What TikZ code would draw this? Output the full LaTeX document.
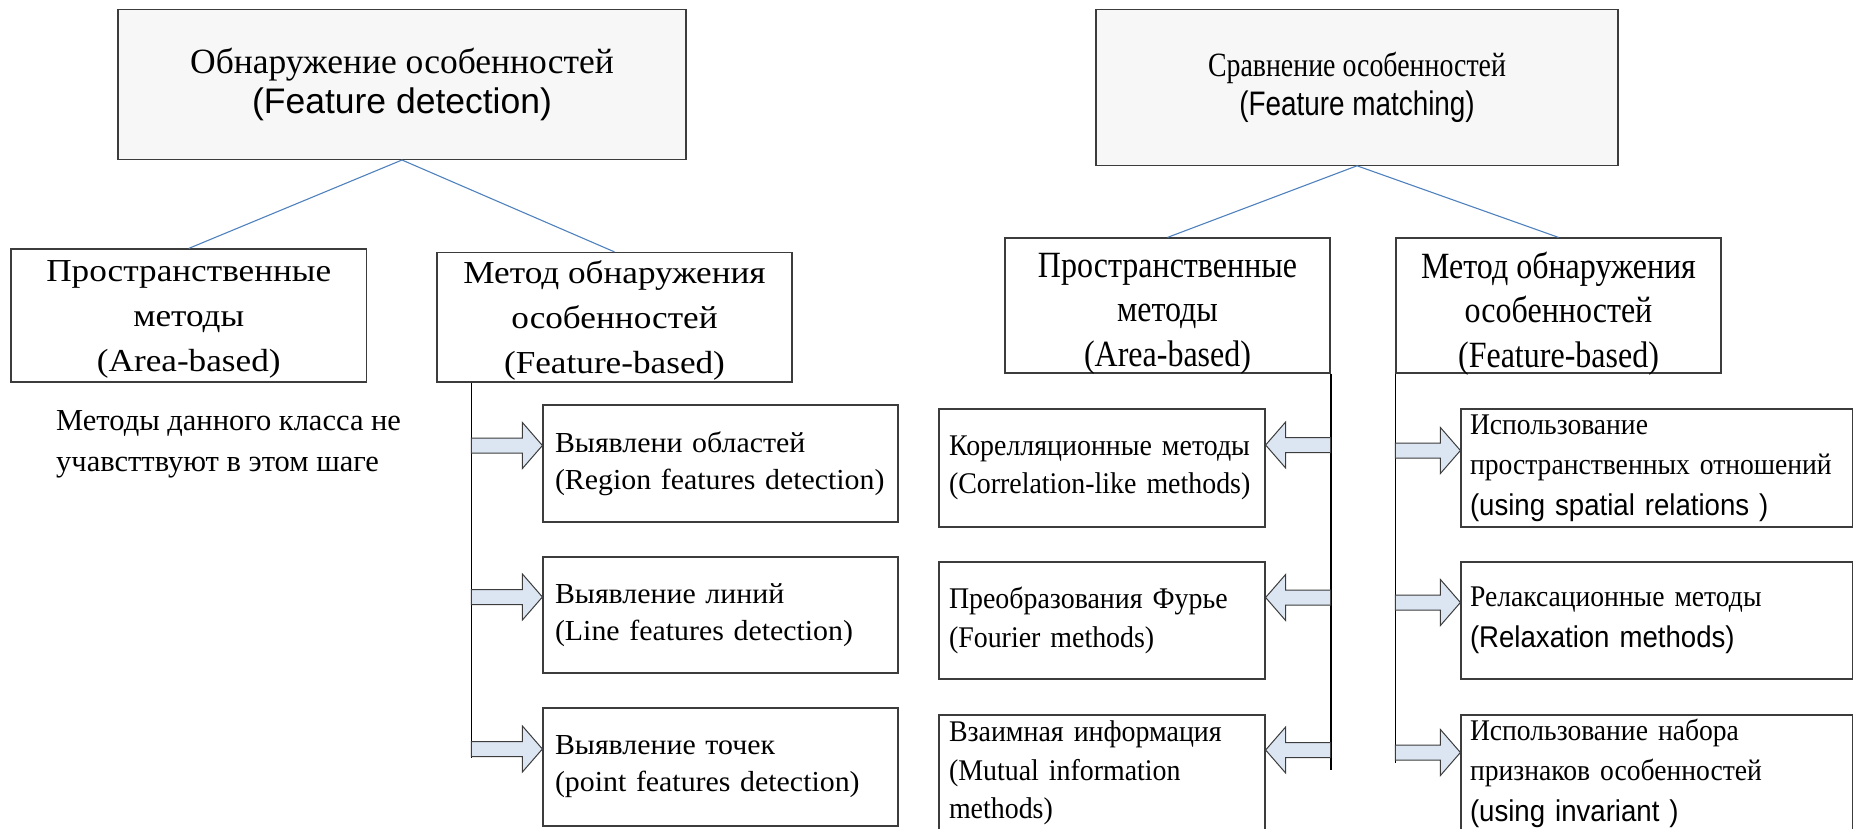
\documentclass[tikz,border=0pt]{standalone}
\usepackage{fontspec}
\setmainfont{Liberation Serif}
\setsansfont{Liberation Sans}
\usetikzlibrary{calc}

\definecolor{linkblue}{RGB}{79,129,189}
\definecolor{arrowfill}{RGB}{220,230,242}
\definecolor{edgegray}{RGB}{60,60,60}

% stretched serif / sans faces
\newcommand\serx[1]{\fontspec{Liberation Serif}[FakeStretch=#1]}
\newcommand\sanx[1]{\fontspec{Liberation Sans}[FakeStretch=#1]}

% type sizes of the text groups
\newcommand\fTitleL{\fontsize{35.5}{40}\selectfont}
\newcommand\fMidL{\serx{1.1}\fontsize{32}{45}\selectfont}
\newcommand\fNote{\fontsize{30.5}{41}\selectfont}
\newcommand\fSubL{\serx{1.03}\fontsize{29}{37}\selectfont}
\newcommand\fTitleR{\serx{0.82}\fontsize{34}{39}\selectfont}
\newcommand\fMidR{\serx{0.865}\fontsize{37}{44.5}\selectfont}
\newcommand\fSubM{\serx{0.93}\fontsize{30}{38.5}\selectfont}
\newcommand\fSubR{\serx{0.92}\fontsize{30}{40.5}\selectfont}

% block arrow from a point on a bus line (#1) to a tip point (#2)
\newcommand\blockarrow[2]{%
  \path[blockarr] let \p1=(#1), \p2=(#2), \p3=($(#2)!20pt!(#1)$) in
    (\x1,\y2+7.5pt) -- (\x3,\y2+7.5pt) -- (\x3,\y2+23pt) -- (\x2,\y2)
    -- (\x3,\y2-23pt) -- (\x3,\y2-7.5pt) -- (\x1,\y2-7.5pt) -- cycle;}

\begin{document}
\begin{tikzpicture}[x=1pt,y=-1pt,
  box/.style={draw=edgegray, line width=1.2pt, inner sep=0pt, align=center},
  topbox/.style={box, fill=black!3},
  subbox/.style={draw=edgegray, line width=1.2pt, inner ysep=0pt, align=left},
  boxtext/.style={inner sep=0pt, align=center},
  link/.style={draw=linkblue, line width=1.1pt},
  bus/.style={draw=black, line width=1.8pt},
  blockarr/.style={draw=edgegray, line width=1pt, fill=arrowfill, line join=miter}]

\useasboundingbox (0,0) rectangle (1854,828);

% ---------------- feature detection ----------------
\node[topbox, minimum width=568pt, minimum height=150pt, font=\fTitleL] (fd) at (402,84.4)
  {Обнаружение особенностей\\{\sffamily(Feature detection)}};
\node[box, minimum width=355.5pt, minimum height=133pt] (fdA) at (188.75,315.5) {};
\node[boxtext, font=\fMidL] (fdAtext) at ($(fdA.center)+(0,4)$)
  {Пространственные\\методы\\(Area-based)};
\node[box, minimum width=355pt, minimum height=129.5pt] (fdF) at (614.5,317.25) {};
\node[boxtext, font=\fMidL] (fdFtext) at ($(fdF.center)+(0,3)$)
  {Метод обнаружения\\особенностей\\(Feature-based)};
\draw[link] (fd.south) -- (fdA.north);
\draw[link] (fd.south) -- (fdF.north);

\node[anchor=west, align=left, inner sep=0pt, font=\fNote] (note) at (56,444.5)
  {Методы данного класса не\\учавсттвуют в этом шаге};

\tikzset{lsub/.style={subbox, minimum height=#1, text width=331pt, inner xsep=12pt, font=\fSubL}}
\node[lsub=117pt] (L1) at (720.5,463.5) {Выявлени областей\\(Region features detection)};
\node[lsub=116pt] (L2) at (720.5,615) {Выявление линий\\(Line features detection)};
\node[lsub=118pt] (L3) at (720.5,767) {Выявление точек\\(point features detection)};

\coordinate (busL) at ($(fdF.south west)+(35,0)$);
\coordinate (busLe) at (busL |- 0,758);
\draw[bus] (busL) -- (busLe);
\foreach \b in {L1,L2,L3}{
  \coordinate (t\b) at ($(\b.west)+(0,-18)$);
  \coordinate (s\b) at (busL |- t\b);
  \blockarrow{s\b}{t\b}
}

% ---------------- feature matching ----------------
\node[topbox, minimum width=522pt, minimum height=156pt, font=\fTitleR] (fm) at (1357,87.2)
  {Сравнение особенностей\\{\sanx{0.82}(Feature matching)}};
\node[box, minimum width=325pt, minimum height=135pt] (fmA) at (1167.5,305.5) {};
\node[boxtext, font=\fMidR] (fmAtext) at ($(fmA.center)+(0,8)$)
  {Пространственные\\методы\\(Area-based)};
\node[box, minimum width=325pt, minimum height=135pt] (fmF) at (1558.5,305.5) {};
\node[boxtext, font=\fMidR] (fmFtext) at ($(fmF.center)+(0,8)$)
  {Метод обнаружения\\особенностей\\(Feature-based)};
\draw[link] (fm.south) -- (fmA.north);
\draw[link] (fm.south) -- (fmF.north);

\tikzset{msub/.style={subbox, minimum height=#1, text width=306pt, inner xsep=10pt, font=\fSubM}}
\node[msub=118pt] (M1) at (1102,468) {Корелляционные методы\\(Correlation-like methods)};
\node[msub=117pt] (M2) at (1102,620.5) {Преобразования Фурье\\(Fourier methods)};
\node[msub=116pt] (M3) at (1102,773) {Взаимная информация\\(Mutual information\\methods)};

\tikzset{rsub/.style={subbox, minimum height=#1, text width=373.5pt, inner xsep=9pt, font=\fSubR}}
\node[rsub=118pt] (R1) at (1656.75,468)
  {Использование\\пространственных отношений\\{\sanx{0.92}(using spatial relations )}};
\node[rsub=117pt] (R2) at (1656.75,620.5)
  {Релаксационные методы\\{\sanx{0.92}(Relaxation methods)}};
\node[rsub=116pt] (R3) at (1656.75,773)
  {Использование набора\\признаков особенностей\\{\sanx{0.92}(using invariant )}};

\coordinate (busM) at (fmA.south east);
\coordinate (busMe) at (busM |- 0,770);
\draw[bus] (busM) -- (busMe);
\foreach \b in {M1,M2,M3}{
  \coordinate (t\b) at ($(\b.east)+(0,-23)$);
  \coordinate (s\b) at (busM |- t\b);
  \blockarrow{s\b}{t\b}
}

\coordinate (busR) at (fmF.south west);
\coordinate (busRe) at (busR |- 0,763);
\draw[bus] (busR) -- (busRe);
\foreach \b/\d in {R1/-17.5,R2/-18,R3/-20.5}{
  \coordinate (t\b) at ($(\b.west)+(0,\d)$);
  \coordinate (s\b) at (busR |- t\b);
  \blockarrow{s\b}{t\b}
}
\end{tikzpicture}
\end{document}
